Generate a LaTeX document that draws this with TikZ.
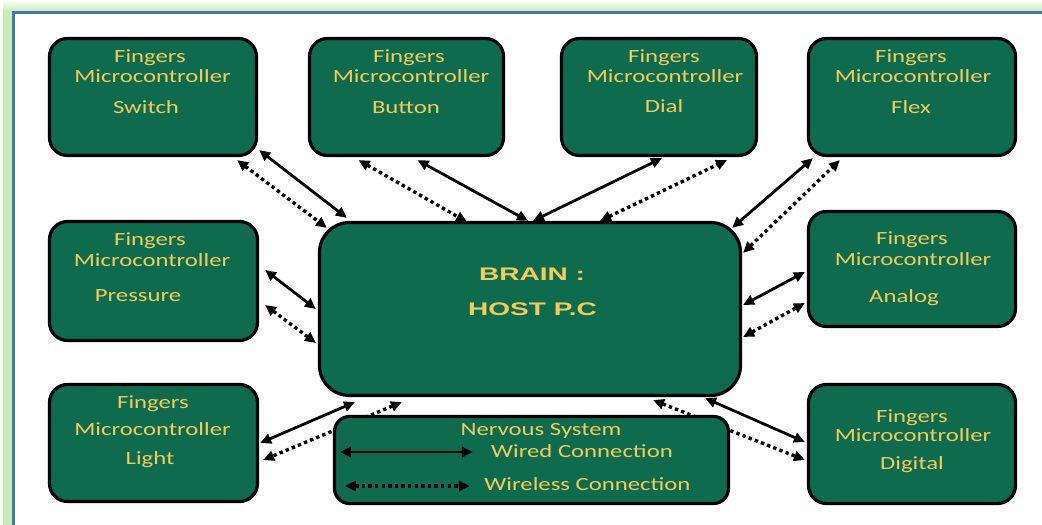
\documentclass[tikz,border=0pt]{standalone}
\usepackage{fontspec}
\newfontfamily\calfont[FakeStretch=1.33]{Carlito}
\newfontfamily\brainfont[FakeStretch=1.54]{Liberation Sans}
\usetikzlibrary{arrows.meta,backgrounds}
\definecolor{boxgreen}{HTML}{0F6B4D}
\definecolor{gold}{HTML}{F2CB5C}
\definecolor{frameblue}{HTML}{4472C4}
\definecolor{glow}{HTML}{C8EDB4}
\begin{document}
\begin{tikzpicture}[x=1pt,y=-1pt,
  box/.style={draw=black, line width=3.2pt, fill=boxgreen, rounded corners=18pt, inner sep=0pt},
  lbl/.style={text=gold, font=\calfont\fontsize{18.6}{20}\selectfont, inner sep=0pt, anchor=base},
  blbl/.style={text=gold, font=\brainfont\bfseries\fontsize{18.2}{20}\selectfont, inner sep=0pt, anchor=base},
  wired/.style={line width=2.8pt, {Triangle[length=11pt,width=10pt]}-{Triangle[length=11pt,width=10pt]}},
  wireless/.style={line width=3.4pt, dash pattern=on 3.4pt off 3.2pt, {Triangle[length=11pt,width=10pt]}-{Triangle[length=11pt,width=10pt]}}
]
\useasboundingbox (0,0) rectangle (1042,525);
% boxes
\node[box, minimum width=207pt, minimum height=117pt] (sw) at (153,97) {};
\node[box, minimum width=194pt, minimum height=117pt] (bt) at (406.5,97) {};
\node[box, minimum width=195pt, minimum height=117pt] (dl) at (659,97) {};
\node[box, minimum width=207pt, minimum height=117pt] (fx) at (912,97) {};
\node[box, minimum width=208pt, minimum height=119pt] (pr) at (153.5,281) {};
\node[box, minimum width=421pt, minimum height=173pt, rounded corners=30pt] (br) at (530,309) {};
\node[box, minimum width=207pt, minimum height=115pt] (an) at (912,269) {};
\node[box, minimum width=208pt, minimum height=117pt] (lt) at (153.5,443) {};
\node[box, minimum width=207pt, minimum height=119pt] (dg) at (912,444) {};
\node[box, minimum width=394pt, minimum height=87pt, rounded corners=15pt] (nv) at (531.5,460) {};
% labels
\node[lbl] (sw1) at (150,62) {Fingers};
\node[lbl] (sw2) at (152.5,82) {Microcontroller};
\node[lbl] (sw3) at (146,113) {Switch};
\node[lbl] (bt1) at (409,62) {Fingers};
\node[lbl] (bt2) at (411,82) {Microcontroller};
\node[lbl] (bt3) at (406,113) {Button};
\node[lbl] (dl1) at (664,62) {Fingers};
\node[lbl] (dl2) at (665,82) {Microcontroller};
\node[lbl] (dl3) at (664,112) {Dial};
\node[lbl] (fx1) at (911,62) {Fingers};
\node[lbl] (fx2) at (913,82) {Microcontroller};
\node[lbl] (fx3) at (911,113) {Flex};
\node[lbl] (pr1) at (150,245) {Fingers};
\node[lbl] (pr2) at (152,266) {Microcontroller};
\node[lbl] (pr3) at (138,301) {Pressure};
\node[lbl] (an1) at (912,244) {Fingers};
\node[lbl] (an2) at (913,265) {Microcontroller};
\node[lbl] (an3) at (904,302) {Analog};
\node[lbl] (lt1) at (153,408) {Fingers};
\node[lbl] (lt2) at (152.5,435) {Microcontroller};
\node[lbl] (lt3) at (150,464) {Light};
\node[lbl] (dg1) at (912,422) {Fingers};
\node[lbl] (dg2) at (913,441) {Microcontroller};
\node[lbl] (dg3) at (912,469) {Digital};
\node[blbl] (b1) at (532,280) {BRAIN :};
\node[blbl] (b2) at (532.5,315) {HOST P.C};
\node[lbl] (nv1) at (541,435) {Nervous System};
\node[lbl] (nv2) at (582,457) {Wired Connection};
\node[lbl] (nv3) at (587.5,490) {Wireless Connection};
% legend arrows
\draw[wired] ([shift={(7,-8)}]nv.west) -- ([shift={(140,-8)}]nv.west);
\draw[wireless] ([shift={(12,26)}]nv.west) -- ([shift={(137,26)}]nv.west);
\begin{scope}[on background layer]
  \fill[glow] (3,1) rectangle (1042,525);
  \shade[top color=white, bottom color=glow] (3,0) rectangle (1042,11);
  \fill[white] (13,12) rectangle (1042,525);
  \draw[frameblue, line width=3pt] (13,526) -- (13,12) -- (1043,12);
  % connectors
  \draw[wired] ([shift={(1,-7)}]sw.south east) -- ([shift={(29,-3)}]br.north west);
  \draw[wireless] ([shift={(-21,3)}]sw.south east) -- ([shift={(9,7)}]br.north west);
  \draw[wireless] ([shift={(-48,3)}]bt.south) -- ([shift={(-63,1)}]br.north);
  \draw[wired] ([shift={(11,3)}]bt.south) -- ([shift={(-2,0)}]br.north);
  \draw[wired] ([shift={(3,0)}]br.north) -- ([shift={(3,1)}]dl.south);
  \draw[wireless] ([shift={(70,0)}]br.north) -- ([shift={(68,3)}]dl.south);
  \draw[wired] ([shift={(-10,7)}]br.north east) -- ([shift={(6,1)}]fx.south west);
  \draw[wireless] ([shift={(1,32)}]br.north east) -- ([shift={(33,3)}]fx.south west);
  \draw[wired] ([shift={(1,-4)}]br.east) -- ([shift={(-2,3)}]an.west);
  \draw[wireless] ([shift={(1,28)}]br.east) -- ([shift={(-2,34)}]an.west);
  \draw[wired] ([shift={(6,-11)}]pr.east) -- ([shift={(-2,0)}]br.west);
  \draw[wireless] ([shift={(6,24)}]pr.east) -- ([shift={(-2,34)}]br.west);
  \draw[wired] ([shift={(37,5)}]br.south west) -- ([shift={(1,0)}]lt.east);
  \draw[wireless] ([shift={(84,5)}]br.south west) -- ([shift={(4,17)}]lt.east);
  \draw[wired] ([shift={(-37,1)}]br.south east) -- ([shift={(-2,-2)}]dg.west);
  \draw[wireless] ([shift={(-89,3)}]br.south east) -- ([shift={(-2,16)}]dg.west);
\end{scope}
\end{tikzpicture}
\end{document}
